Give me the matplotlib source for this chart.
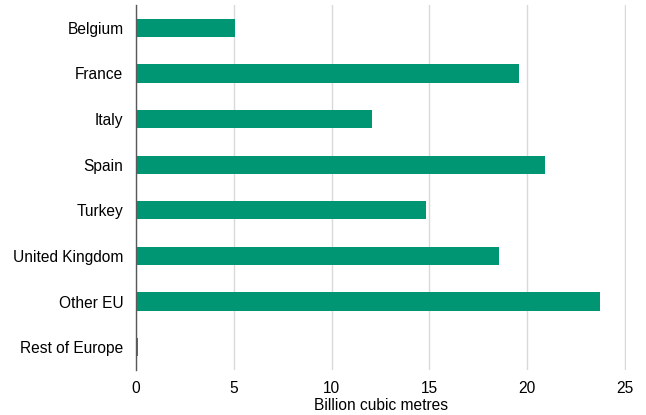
import matplotlib
matplotlib.use("Agg")
import matplotlib.pyplot as plt

categories = ["Belgium", "France", "Italy", "Spain", "Turkey", "United Kingdom", "Other EU", "Rest of Europe"]
values = [5.06, 19.6, 12.07, 20.9, 14.84, 18.57, 23.74, 0.08]
xticks = [0, 5, 10, 15, 20, 25]
xlabel = "Billion cubic metres"

plt.rcParams['font.family'] = ['Liberation Sans', 'DejaVu Sans']
fs = 11.2

fig = plt.figure(figsize=(6.46, 4.15), dpi=100)
ax = fig.add_axes([136/646, 1 - 370/415, (626-136)/646, (370-5)/415])

y = list(range(len(categories)))
ax.barh(y, values, height=0.4, color="#009673", zorder=3)
ax.set_ylim(len(categories) - 0.5, -0.5)
ax.set_xlim(0, 25.05)
ax.set_yticks(y)
ax.set_yticklabels(categories, fontsize=fs)
ax.set_xticks(xticks)
ax.set_xticklabels([str(t) for t in xticks], fontsize=fs)
ax.tick_params(axis='y', length=0, pad=9)
ax.tick_params(axis='x', length=0, pad=8)
ax.xaxis.grid(True, color="#d9d9d9", linewidth=1, zorder=0)
for s in ["top", "right", "bottom"]:
    ax.spines[s].set_visible(False)
ax.spines["left"].set_color("#595959")
ax.spines["left"].set_linewidth(1)
ax.spines["left"].set_zorder(4)
ax.set_xlabel(xlabel, fontsize=fs, labelpad=1)

fig.savefig("out.png", dpi=100)
